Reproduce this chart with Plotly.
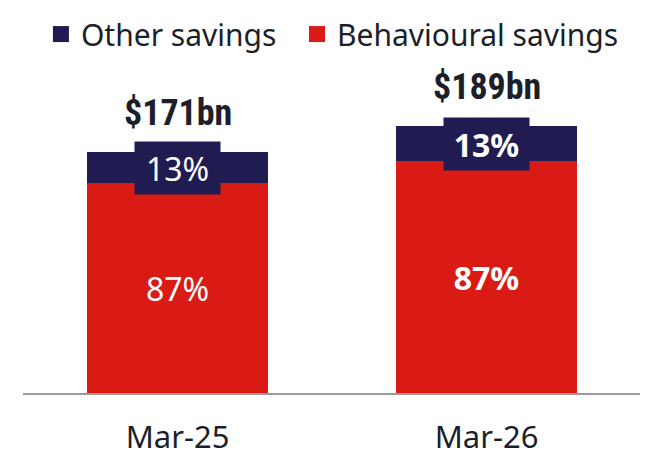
import plotly.graph_objects as go

categories = ["Mar-25", "Mar-26"]
totals_bn = [171, 189]
behavioural_share = [0.87, 0.87]
behavioural = [t * s for t, s in zip(totals_bn, behavioural_share)]
other = [t - b for t, b in zip(totals_bn, behavioural)]
bold_flags = [False, True]

NAVY = "#201c52"
RED = "#da1a14"
DARK = "#1c1f2a"
FONT = "Noto Sans"

def fmt(txt, bold):
    return f"<b>{txt}</b>" if bold else txt

fig = go.Figure()
fig.add_trace(go.Bar(
    x=categories, y=behavioural, name="Behavioural savings",
    marker=dict(color=RED, line=dict(width=0)),
    text=[fmt(f"{round(100*b/t)}%", bf) for b, t, bf in zip(behavioural, totals_bn, bold_flags)],
    textposition="inside", insidetextanchor="middle",
    textfont=dict(family=FONT, size=32, color="white"),
    showlegend=False, hoverinfo="skip",
))
fig.add_trace(go.Bar(
    x=categories, y=other, name="Other savings",
    marker=dict(color=NAVY, line=dict(width=0)),
    showlegend=False, hoverinfo="skip",
))
# legend proxies
fig.add_trace(go.Scatter(x=[None], y=[None], mode="markers", name="Other savings\u00a0\u00a0",
                         marker=dict(symbol="square", size=20, color=NAVY)))
fig.add_trace(go.Scatter(x=[None], y=[None], mode="markers", name="Behavioural savings",
                         marker=dict(symbol="square", size=20, color=RED)))

annotations = []
for c, b, o, t, bf in zip(categories, behavioural, other, totals_bn, bold_flags):
    annotations.append(dict(
        x=c, y=b + o / 2, xref="x", yref="y", showarrow=False,
        text=fmt(f"{round(100*o/t)}%", bf),
        font=dict(family=FONT, size=32, color="white"),
        bgcolor=NAVY, width=85, height=52, borderpad=0,
        align="center", valign="middle", xanchor="center", yanchor="middle",
    ))
    annotations.append(dict(
        x=c, y=t, xref="x", yref="y", showarrow=False,
        text=f"<b>${t}bn</b>", yshift=39,
        font=dict(family="Roboto Condensed, DejaVu Sans Condensed",
                  size=36, color=DARK),
        xanchor="center", yanchor="middle",
    ))

fig.update_layout(
    width=640, height=449,
    margin=dict(l=15, r=7, t=0, b=58),
    plot_bgcolor="white", paper_bgcolor="white",
    barmode="stack", bargap=0.4123,
    font=dict(family=FONT, color=DARK),
    legend=dict(orientation="h", x=0.029, xanchor="left", y=1.0077, yanchor="top",
                font=dict(family=FONT, size=30, color=DARK), traceorder="normal",
                bgcolor="rgba(0,0,0,0)"),
    annotations=annotations,
    xaxis=dict(showline=True, linecolor="#9a9a9a", linewidth=2, showgrid=False,
               ticks="", ticklabelstandoff=16,
               tickfont=dict(family=FONT, size=31, color=DARK), zeroline=False),
    yaxis=dict(range=[0, 270.9], visible=False, showgrid=False, zeroline=False),
)
fig.write_html("out.html")
